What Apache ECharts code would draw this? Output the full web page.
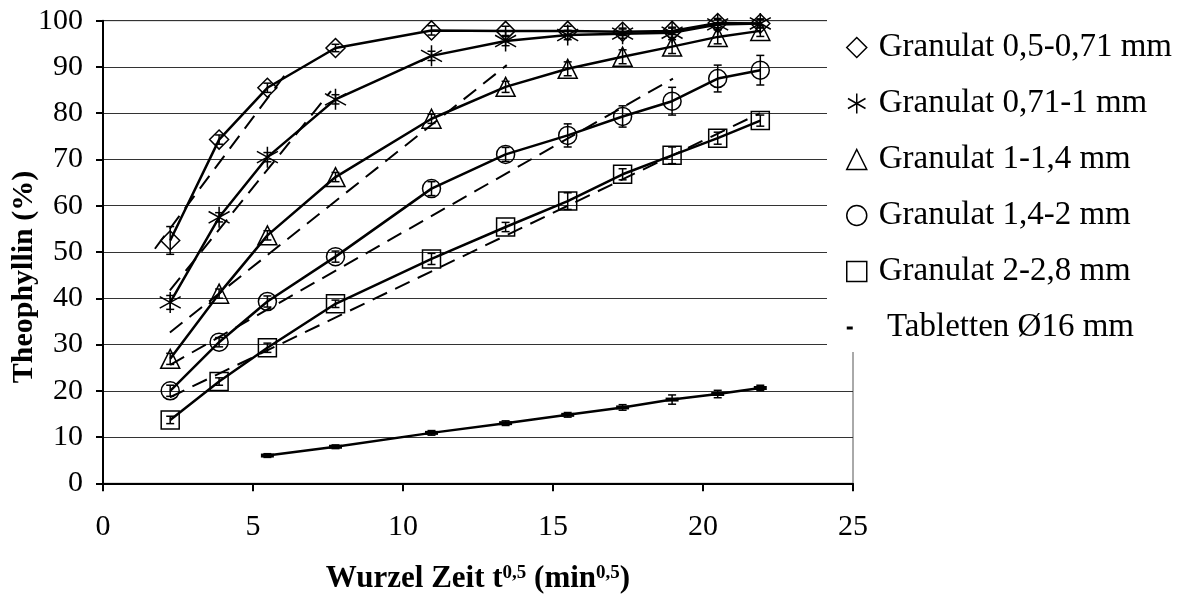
<!DOCTYPE html>
<html>
<head>
<meta charset="utf-8">
<script src="https://cdn.jsdelivr.net/npm/echarts@6/dist/echarts.min.js"></script>
<style>
  html, body { margin: 0; padding: 0; background: #fff; }
  #chart { width: 1193px; height: 604px; }
</style>
</head>
<body>
<div id="chart"></div>
<script>
// Square root of sampling time (min^0.5)
const rootTime = [2.24, 3.87, 5.48, 7.75, 10.95, 13.42, 15.49, 17.32, 18.97, 20.49, 21.91];
const rootTimeTab = [5.48, 7.75, 10.95, 13.42, 15.49, 17.32, 18.97, 20.49, 21.91];

// Released theophyllin (%) per formulation
const gran050 = [52.5, 74.3, 85.5, 94.1, 97.9, 97.8, 97.8, 97.6, 97.8, 99.5, 99.4];
const gran071 = [39.1, 57.5, 70.5, 83.0, 92.4, 95.6, 96.9, 97.2, 97.4, 99.2, 99.4];
const gran100 = [26.9, 41.0, 53.6, 66.2, 78.8, 85.7, 89.6, 92.2, 94.4, 96.5, 97.8];
const gran140 = [20.0, 30.5, 39.3, 49.0, 63.7, 71.1, 75.2, 79.3, 82.6, 87.5, 89.3];
const gran200 = [13.7, 22.0, 29.3, 38.8, 48.5, 55.4, 61.0, 66.8, 70.9, 74.6, 78.4];
const tablet16 = [6.0, 7.9, 10.9, 13.0, 14.8, 16.4, 18.1, 19.3, 20.6];

// Standard deviations (+/-)
const sd050 = [3.0, 1.0, 1.0, 0.8, 1.0, 1.0, 1.0, 0.8, 0.8, 1.0, 0.8];
const sd071 = [1.5, 1.0, 1.0, 1.0, 1.0, 1.0, 1.0, 1.0, 1.0, 1.0, 1.0];
const sd100 = [1.2, 1.0, 1.0, 1.0, 1.0, 1.2, 1.5, 1.5, 1.5, 1.5, 1.2];
const sd140 = [1.2, 1.0, 1.2, 1.2, 1.5, 1.5, 2.5, 2.3, 3.0, 2.9, 3.2];
const sd200 = [0.8, 0.8, 1.0, 0.8, 1.2, 1.0, 1.8, 1.2, 1.8, 1.3, 1.2];
const sdTab = [0.4, 0.4, 0.5, 0.5, 0.5, 0.6, 1.0, 0.8, 0.6];

// Linear regression lines (Higuchi fits): [start point, end point]
const fit050 = [[1.73, 50.7], [6.18, 89.3]];
const fit071 = [[2.23, 41.7], [7.60, 84.8]];
const fit100 = [[2.23, 32.6], [13.46, 90.4]];
const fit140 = [[2.24, 25.6], [19.00, 87.5]];
const fit200 = [[2.23, 18.6], [21.90, 80.0]];

const names = [
  'Granulat 0,5-0,71 mm',
  'Granulat 0,71-1 mm',
  'Granulat 1-1,4 mm',
  'Granulat 1,4-2 mm',
  'Granulat 2-2,8 mm',
  'Tabletten Ø16 mm'
];

const xTicks = ['0', '5', '10', '15', '20', '25'];
const yTicks = ['0', '10', '20', '30', '40', '50', '60', '70', '80', '90', '100'];

const FONT = 'Liberation Serif';
const ASTERISK = 'path://M10,0L10,20M1.5,4.5L18.5,15.5M1.5,15.5L18.5,4.5';

function pairs(xs, ys) { return xs.map((x, i) => [x, ys[i]]); }

function dataSeries(name, xs, ys, symbol, size) {
  return {
    type: 'line', name, data: pairs(xs, ys), symbol, symbolSize: size,
    showAllSymbol: true, silent: true, z: 3,
    lineStyle: { color: '#000', width: 2.5 },
    itemStyle: { color: 'rgba(0,0,0,0)', borderColor: '#000', borderWidth: 1.5 },
    emphasis: { disabled: true }
  };
}

function errorSeries(xs, ys, sd) {
  return {
    type: 'custom', silent: true, z: 4,
    data: xs.map((x, i) => [x, ys[i] - sd[i], ys[i] + sd[i]]),
    encode: { x: 0, y: [1, 2] },
    renderItem: (params, api) => {
      const x = api.value(0);
      const lo = api.coord([x, api.value(1)]);
      const hi = api.coord([x, api.value(2)]);
      const cap = 4;
      const st = { stroke: '#000', lineWidth: 1.5 };
      return {
        type: 'group', children: [
          { type: 'line', shape: { x1: lo[0], y1: lo[1], x2: hi[0], y2: hi[1] }, style: st },
          { type: 'line', shape: { x1: lo[0] - cap, y1: lo[1], x2: lo[0] + cap, y2: lo[1] }, style: st },
          { type: 'line', shape: { x1: hi[0] - cap, y1: hi[1], x2: hi[0] + cap, y2: hi[1] }, style: st }
        ]
      };
    }
  };
}

function fitSeries(pts) {
  return {
    type: 'line', data: pts, symbol: 'none', silent: true, z: 2,
    lineStyle: { color: '#000', width: 2, type: [16, 9] },
    emphasis: { disabled: true }
  };
}

const chart = echarts.init(document.getElementById('chart'), null, { renderer: 'canvas' });

chart.setOption({
  animation: false,
  backgroundColor: '#fff',
  grid: {
    left: 103, right: 340, top: 20.7, bottom: 120.7,
    containLabel: false, outerBoundsMode: 'none',
    show: true, borderColor: '#555', borderWidth: 1, backgroundColor: 'transparent'
  },
  xAxis: {
    type: 'value', min: 0, max: 25, interval: 5,
    name: '{b|Wurzel Zeit t}{s|0,5}{b| (min}{s|0,5}{b|)}',
    nameLocation: 'middle', nameGap: 80, nameMoveOverlap: false,
    nameTextStyle: {
      rich: {
        b: { fontFamily: FONT, fontWeight: 'bold', fontSize: 31, color: '#000', verticalAlign: 'bottom' },
        s: { fontFamily: FONT, fontWeight: 'bold', fontSize: 19, color: '#000', verticalAlign: 'top' }
      }
    },
    axisLine: { show: true, onZero: false, lineStyle: { color: '#000', width: 2 } },
    axisTick: { show: true, inside: false, length: 8, lineStyle: { color: '#000', width: 2 } },
    axisLabel: {
      margin: 29, fontFamily: FONT, fontSize: 30, color: '#000',
      formatter: v => xTicks[Math.round(v / 5)]
    },
    splitLine: { show: false }
  },
  yAxis: {
    type: 'value', min: 0, max: 100, interval: 10,
    name: 'Theophyllin (%)', nameLocation: 'middle', nameGap: 64, nameMoveOverlap: false,
    nameTextStyle: {
      fontFamily: FONT, fontWeight: 'bold', fontSize: 30, color: '#000',
      padding: [0, 50, 0, 0]
    },
    axisLine: { show: true, lineStyle: { color: '#000', width: 2 } },
    axisTick: { show: true, inside: false, length: 7, lineStyle: { color: '#000', width: 2 } },
    axisLabel: {
      margin: 20, fontFamily: FONT, fontSize: 30, color: '#000',
      formatter: v => yTicks[Math.round(v / 10)]
    },
    splitLine: { show: true, lineStyle: { color: '#333', width: 1 } }
  },
  graphic: [
    { type: 'rect', silent: true, z: 3, shape: { x: 827, y: 0, width: 366, height: 352 }, style: { fill: '#fff' } }
  ],
  legend: {
    orient: 'vertical', left: 841, top: 26,
    itemWidth: 34, itemHeight: 20, itemGap: 23,
    symbolKeepAspect: true, selectedMode: false,
    itemStyle: { color: 'rgba(0,0,0,0)', borderColor: '#000', borderWidth: 1.5 },
    textStyle: { fontFamily: FONT, fontSize: 33, color: '#000', lineHeight: 33 },
    formatter: n => (n.indexOf('Tabletten') === 0 ? ' ' + n : n),
    data: [
      { name: names[0], icon: 'path://M10,0L20,10L10,20L0,10Z' },
      { name: names[1], icon: 'path://M10,2L10,18M3,6L17,14M3,14L17,6' },
      { name: names[2], icon: 'path://M10,2L18,18L2,18Z' },
      { name: names[3], icon: 'path://M1,10A9,9,0,1,1,19,10A9,9,0,1,1,1,10Z' },
      { name: names[4], icon: 'path://M1.5,1.5H18.5V18.5H1.5Z' },
      { name: names[5], icon: 'path://M0,0M20,20M0,9H6V12H0Z', itemStyle: { color: '#000', borderWidth: 0 } }
    ]
  },
  series: [
    fitSeries(fit050), fitSeries(fit071), fitSeries(fit100), fitSeries(fit140), fitSeries(fit200),
    dataSeries(names[0], rootTime, gran050, 'diamond', 19),
    dataSeries(names[1], rootTime, gran071, ASTERISK, 21),
    dataSeries(names[2], rootTime, gran100, 'triangle', 19),
    dataSeries(names[3], rootTime, gran140, 'circle', 18),
    dataSeries(names[4], rootTime, gran200, 'rect', 18),
    {
      type: 'line', name: names[5], data: pairs(rootTimeTab, tablet16),
      symbol: 'rect', symbolSize: [13, 4], showAllSymbol: true, silent: true, z: 3,
      lineStyle: { color: '#000', width: 2.5 },
      itemStyle: { color: '#000', borderWidth: 0 },
      emphasis: { disabled: true }
    },
    errorSeries(rootTime, gran050, sd050),
    errorSeries(rootTime, gran071, sd071),
    errorSeries(rootTime, gran100, sd100),
    errorSeries(rootTime, gran140, sd140),
    errorSeries(rootTime, gran200, sd200),
    errorSeries(rootTimeTab, tablet16, sdTab)
  ]
});
</script>
</body>
</html>
